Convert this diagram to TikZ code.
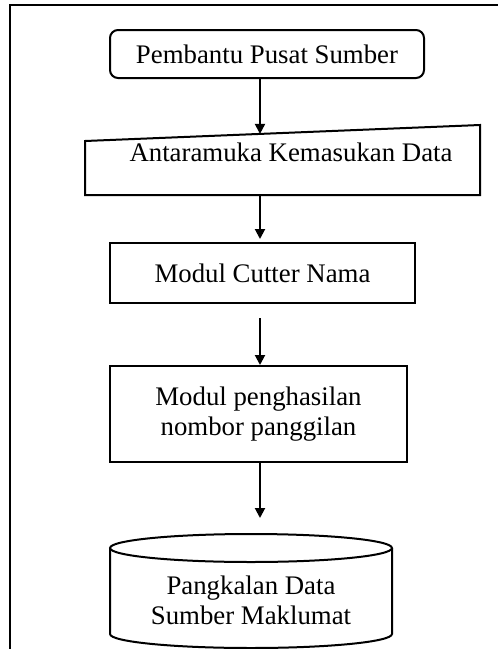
\documentclass[tikz,border=0pt]{standalone}
\usepackage{fontspec}
\setmainfont{Liberation Serif}
\usepackage{tikz}
\usetikzlibrary{calc,arrows.meta}

\tikzset{
  procbox/.style={draw, line width=1pt, inner sep=0pt, align=center},
  startbox/.style={procbox, rounded corners=4pt}
}

\begin{document}
\begin{tikzpicture}[x=0.5pt, y=-0.5pt, line width=1pt,
    font=\fontsize{13.4}{15}\selectfont,
    >={Triangle[length=5pt,width=5pt]}]
      \useasboundingbox (0,0) rectangle (498,649);
      \draw[line width=0.8pt] (498,5) -- (10,5) -- (10,649);

      \node[startbox, minimum width=157pt, minimum height=24pt] (pusat) at (267,54) {Pembantu Pusat Sumber};
      \node (antara) at (291,152) {Antaramuka Kemasukan Data};
      \node[procbox, minimum width=152.5pt, minimum height=30pt] (cutter) at (262.5,273) {Modul Cutter Nama};
      \node[procbox, minimum width=148.5pt, minimum height=48pt] (nombor) at (258.5,414) {Modul penghasilan\\nombor panggilan};
      \node[align=center] (pangkalan) at (251,600) {Pangkalan Data\\Sumber Maklumat};

      \coordinate (inNW) at (85,141);
      \coordinate (inNE) at (480,125);
      \coordinate (inSE) at (480,195);
      \coordinate (inSW) at (85,195);
      \draw (inSW) -- (inSE) -- (inNE) -- (inNW) -- cycle;
      \coordinate (inTop) at ($(inNW)!0.443!(inNE)$);
      \coordinate (inBot) at (260,195);

      \draw (110,548) -- (110,634) arc[start angle=180, end angle=360, x radius=70.5pt, y radius=7pt] -- (392,548);
      \draw (251,548) ellipse [x radius=70.5pt, y radius=7pt];
      \coordinate (dbTop) at (260,534);

      \draw[->] (pusat.south -| inTop) -- (inTop);
      \draw[->, shorten >=1.5pt] (inBot) -- (cutter.north -| inBot);
      \draw[->, shorten <=7pt] (cutter.south -| inBot) -- (nombor.north -| inBot);
      \draw[->, shorten >=8pt] (nombor.south -| inBot) -- (dbTop);
    \end{tikzpicture}
\end{document}
